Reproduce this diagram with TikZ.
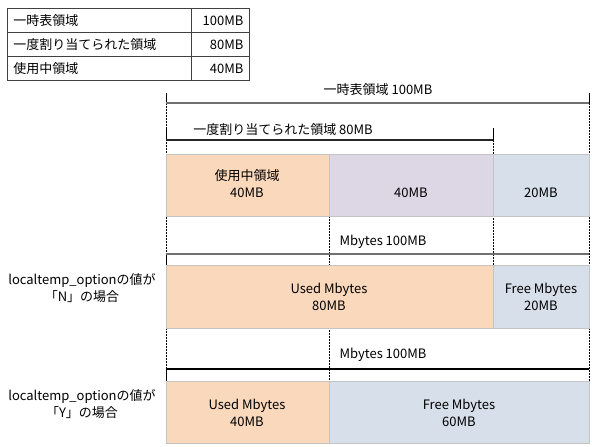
\documentclass[tikz,border=0pt]{standalone}
\usepackage{fontspec}
\newfontfamily\jp{Noto Sans CJK JP}
\definecolor{usedc}{HTML}{FAD8BC}
\definecolor{allocc}{HTML}{DDD6E4}
\definecolor{freec}{HTML}{D6DFEA}
\definecolor{barline}{HTML}{C4C4C4}
\definecolor{bracketgray}{HTML}{707070}
\begin{document}
\begin{tikzpicture}[x=1pt,y=-1pt,
  every node/.style={font=\jp\fontsize{13}{17}\selectfont, inner sep=0pt},
  cellL/.style={draw=black!75, line width=0.7pt, anchor=north west, minimum height=24pt, text width=172pt, inner xsep=6pt, align=left},
  cellR/.style={draw=black!75, line width=0.7pt, anchor=north west, minimum height=24pt, text width=46pt, inner xsep=6pt, align=right},
  bar/.style={draw=barline, line width=0.8pt, anchor=north west, minimum height=62pt},
  lbl/.style={align=center},
  guide/.style={black, line width=0.8pt, dash pattern=on 2pt off 1pt},
  tick/.style={black, line width=0.9pt},
  brk/.style={line width=1.2pt}
]
\useasboundingbox (0,0) rectangle (592,447);

% legend table
\node[cellL] (t1a) at (7,8) {一時表領域};
\node[cellR] (t1b) at (191,8) {100MB};
\node[cellL] (t2a) at (7,32) {一度割り当てられた領域};
\node[cellR] (t2b) at (191,32) {80MB};
\node[cellL] (t3a) at (7,56) {使用中領域};
\node[cellR] (t3b) at (191,56) {40MB};

% coordinates
\coordinate (a0) at (166,93);  \coordinate (a1) at (166,103);
\coordinate (b0) at (589,93);  \coordinate (b1) at (589,103);
\coordinate (c0) at (166,128); \coordinate (c1) at (166,140);
\coordinate (d0) at (493,128); \coordinate (d1) at (493,140);
\coordinate (e0) at (166,254); \coordinate (e1) at (589,254);
\coordinate (f0) at (166,369); \coordinate (f1) at (589,369);
\coordinate (gL) at (166,443); \coordinate (gR) at (589,443);
\coordinate (m0) at (329,216); \coordinate (m1) at (329,381);
\coordinate (n1) at (493,265);

% dashed guides
\draw[guide] (a1) -- (gL);
\draw[guide] (b1) -- (gR);
\draw[guide] (d1) -- (n1);
\draw[guide] (m0) -- (m1);

% brackets
\draw[tick] (a0) -- (a1);
\draw[tick] (b0) -- (b1);
\draw[brk, bracketgray] (a1) -- (b1);
\node (l100) at (378,90) {一時表領域 100MB};

\draw[tick] (c0) -- (c1);
\draw[tick] (d0) -- (d1);
\draw[brk, black!85] (c1) -- (d1);
\node (l80) at (283,130) {一度割り当てられた領域 80MB};

% row 1
\node[bar, fill=usedc, minimum width=163pt] (r1a) at (166,154) {};
\node[bar, fill=allocc, minimum width=164pt] (r1b) at (329,154) {};
\node[bar, fill=freec, minimum width=96pt] (r1c) at (493,154) {};
\node[lbl] (r1at) at (247,184) {使用中領域\\40MB};
\node (r1bt) at (411,193) {40MB};
\node (r1ct) at (541,193) {20MB};

% row 2
\draw[tick] (e0) -- (166,265);
\draw[brk, bracketgray] (e0) -- (e1);
\node (m2) at (383,242) {Mbytes 100MB};
\node[bar, fill=usedc, minimum width=327pt, minimum height=63pt] (r2a) at (166,265) {};
\node[bar, fill=freec, minimum width=96pt, minimum height=63pt] (r2b) at (493,265) {};
\node[lbl] (r2at) at (329,297) {Used Mbytes\\80MB};
\node[lbl] (r2bt) at (541,297) {Free Mbytes\\20MB};
\node[lbl] (optN) at (82,288) {localtemp\_optionの値が\\「N」の場合};

% row 3
\draw[tick] (f0) -- (166,381);
\draw[brk, black] (f0) -- (f1);
\node (m3) at (383,355) {Mbytes 100MB};
\node[bar, fill=usedc, minimum width=163pt] (r3a) at (166,381) {};
\node[bar, fill=freec, minimum width=260pt] (r3b) at (329,381) {};
\node[lbl] (r3at) at (247,413) {Used Mbytes\\40MB};
\node[lbl] (r3bt) at (459,413) {Free Mbytes\\60MB};
\node[lbl] (optY) at (82,404) {localtemp\_optionの値が\\「Y」の場合};
\end{tikzpicture}
\end{document}
